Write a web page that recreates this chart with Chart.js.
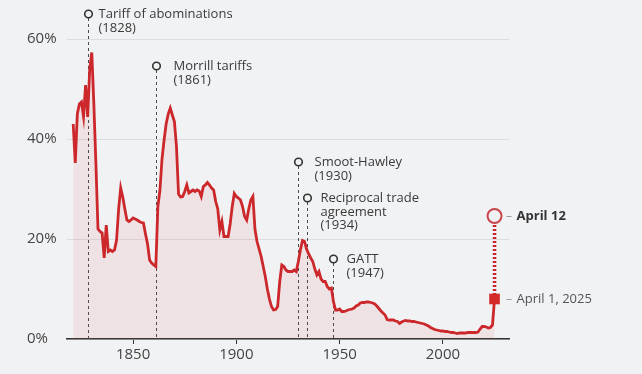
<!DOCTYPE html>
<html>
<head>
<meta charset="utf-8">
<script src="https://cdn.jsdelivr.net/npm/chart.js@4"></script>
<style>
  html, body { margin: 0; padding: 0; background: #f1f2f4; }
</style>
</head>
<body>
<canvas id="myChart" width="642" height="374"></canvas>
<script>
// years 1821-2025
const years = [
  1821,1822,1823,1824,1825,1826,1827,1828,1829,1830,
  1831,1832,1833,1834,1835,1836,1837,1838,1839,1840,
  1841,1842,1843,1844,1845,1846,1847,1848,1849,1850,
  1851,1852,1853,1854,1855,1856,1857,1858,1859,1860,
  1861,1862,1863,1864,1865,1866,1867,1868,1869,1870,
  1871,1872,1873,1874,1875,1876,1877,1878,1879,1880,
  1881,1882,1883,1884,1885,1886,1887,1888,1889,1890,
  1891,1892,1893,1894,1895,1896,1897,1898,1899,1900,
  1901,1902,1903,1904,1905,1906,1907,1908,1909,1910,
  1911,1912,1913,1914,1915,1916,1917,1918,1919,1920,
  1921,1922,1923,1924,1925,1926,1927,1928,1929,1930,
  1931,1932,1933,1934,1935,1936,1937,1938,1939,1940,
  1941,1942,1943,1944,1945,1946,1947,1948,1949,1950,
  1951,1952,1953,1954,1955,1956,1957,1958,1959,1960,
  1961,1962,1963,1964,1965,1966,1967,1968,1969,1970,
  1971,1972,1973,1974,1975,1976,1977,1978,1979,1980,
  1981,1982,1983,1984,1985,1986,1987,1988,1989,1990,
  1991,1992,1993,1994,1995,1996,1997,1998,1999,2000,
  2001,2002,2003,2004,2005,2006,2007,2008,2009,2010,
  2011,2012,2013,2014,2015,2016,2017,2018,2019,2020,
  2021,2022,2023,2024,2025
];

// average tariff rate, %
const tariffRate = [
  43, 35.2, 45, 47, 47.4, 44.5, 50.8, 44.4, 54, 57.3,
  47, 35, 22, 21.5, 21.2, 16.2, 22.8, 17.5, 17.8, 17.5,
  17.8, 19.8, 26, 30.2, 28.4, 26, 23.8, 23.5, 23.8, 24.2,
  24, 23.8, 23.5, 23.3, 23.2, 21, 19, 15.8, 15.2, 14.8,
  14.5, 26.5, 29.8, 36, 39.8, 43, 45, 46.2, 44.8, 43.5,
  38.5, 29, 28.4, 28.5, 29.5, 30.8, 29.2, 29.5, 29.8, 29.5,
  29.8, 29.6, 28.5, 30.5, 30.8, 31.3, 30.8, 30.2, 29.8, 27.5,
  26, 21.8, 23.5, 20.5, 20.5, 20.5, 23, 26.5, 29.1, 28.5,
  28.2, 27.8, 26.5, 24.5, 23.8, 26, 27.8, 28.5, 22, 19.5,
  18, 16.5, 14.5, 12.5, 10, 8, 6.5, 5.8, 5.9, 6.5,
  11.5, 14.8, 14.5, 13.8, 13.5, 13.5, 13.5, 13.8, 13.5, 15.5,
  17.8, 19.7, 19.5, 18, 17, 16.2, 15.5, 14, 12.8, 13.5,
  12, 11.5, 11.5, 10.5, 10, 10.2, 7.5, 5.8, 5.8, 6,
  5.5, 5.5, 5.6, 5.8, 5.9, 6, 6.2, 6.6, 6.8, 7.2,
  7.3, 7.3, 7.4, 7.4, 7.3, 7.2, 7, 6.6, 6.1, 5.6,
  5.2, 4.8, 3.9, 3.8, 3.8, 3.8, 3.6, 3.5, 3.1, 3.4,
  3.6, 3.7, 3.6, 3.6, 3.5, 3.5, 3.4, 3.3, 3.2, 3.1,
  3, 2.8, 2.6, 2.3, 2.1, 1.9, 1.8, 1.7, 1.6, 1.6,
  1.5, 1.5, 1.4, 1.3, 1.3, 1.2, 1.1, 1.2, 1.2, 1.2,
  1.2, 1.3, 1.3, 1.3, 1.3, 1.3, 1.4, 2, 2.5, 2.5,
  2.4, 2.2, 2.3, 2.8, 8
];

// 2025 announcements
const aprilYear = 2025;
const aprilRates = [8, 24.6];
const aprilLabels = ['April 1, 2025', 'April 12'];

// historical events
const eventYears = [1828, 1861, 1930, 1934, 1947];
const eventLevels = [65, 54.6, 35.4, 28.2, 16];
const eventLabels = [
  ['Tariff of abominations', '(1828)'],
  ['Morrill tariffs', '(1861)'],
  ['Smoot-Hawley', '(1930)'],
  ['Reciprocal trade', 'agreement', '(1934)'],
  ['GATT', '(1947)']
];

const xTicks = [1850, 1900, 1950, 2000];
const yTicks = [0, 20, 40, 60];

const FONT = '"Open Sans", "Noto Sans", sans-serif';
const labelGap = [10, 17, 16, 13, 13];

const eventPlugin = {
  id: 'events',
  beforeDatasetsDraw(chart) {
    const c = chart.ctx, xs = chart.scales.x, ys = chart.scales.y;
    c.save();
    c.strokeStyle = '#4a4a4a';
    c.lineWidth = 1;
    c.setLineDash([3, 3]);
    for (let i = 0; i < eventYears.length; i++) {
      const px = Math.round(xs.getPixelForValue(eventYears[i])) + 0.5;
      const py = ys.getPixelForValue(eventLevels[i]);
      c.beginPath();
      c.moveTo(px, py + 4);
      c.lineTo(px, ys.getPixelForValue(0));
      c.stroke();
    }
    c.restore();
  },
  afterDatasetsDraw(chart) {
    const c = chart.ctx, xs = chart.scales.x, ys = chart.scales.y;
    c.save();
    c.font = '13px ' + FONT;
    c.textBaseline = 'middle';
    for (let i = 0; i < eventYears.length; i++) {
      const px = Math.round(xs.getPixelForValue(eventYears[i])) + 0.5;
      const py = ys.getPixelForValue(eventLevels[i]);
      c.beginPath();
      c.arc(px, py, 3.8, 0, Math.PI * 2);
      c.fillStyle = '#f1f2f4';
      c.fill();
      c.lineWidth = 1.6;
      c.strokeStyle = '#333';
      c.stroke();
      c.fillStyle = '#3a3a3a';
      eventLabels[i].forEach((t, j) => {
        c.fillText(t, px + labelGap[i], py + j * 13.8);
      });
    }
    // April labels
    for (let i = 0; i < aprilRates.length; i++) {
      const px = xs.getPixelForValue(aprilYear);
      const py = ys.getPixelForValue(aprilRates[i]);
      c.beginPath();
      c.moveTo(px + 12, py + 0.5);
      c.lineTo(px + 17, py + 0.5);
      c.strokeStyle = '#999';
      c.lineWidth = 1;
      c.stroke();
      if (i === 1) {
        c.font = 'bold 13px ' + FONT;
        c.fillStyle = '#333';
      } else {
        c.font = '13px ' + FONT;
        c.fillStyle = '#555';
      }
      c.fillText(aprilLabels[i], px + 22, py);
    }
    c.restore();
  }
};

const ctx = document.getElementById('myChart').getContext('2d');

const myChart = new Chart(ctx, {
  type: 'line',
  data: {
    datasets: [{
      data: years.map((yr, i) => ({ x: yr, y: tariffRate[i] })),
      borderColor: '#cc272a',
      backgroundColor: 'rgba(210, 70, 70, 0.09)',
      borderWidth: 2.8,
      pointRadius: 0,
      fill: 'origin',
      tension: 0,
      order: 1
    }, {
      data: aprilRates.map(v => ({ x: aprilYear, y: v })),
      borderColor: '#c9252b',
      borderWidth: 3.5,
      borderDash: [2, 2],
      pointStyle: ['rect', 'circle'],
      pointRadius: [7.5, 7],
      pointBackgroundColor: ['#d42a2a', '#f1f2f4'],
      pointBorderColor: ['#d42a2a', '#c8464b'],
      pointBorderWidth: [0, 2],
      fill: false,
      order: 0
    }]
  },
  options: {
    responsive: false,
    animation: false,
    layout: { padding: { left: 27, right: 133, top: 9, bottom: 0 } },
    plugins: { legend: { display: false }, tooltip: { enabled: false } },
    scales: {
      x: {
        type: 'linear',
        min: 1818,
        max: 2032,
        afterBuildTicks: s => { s.ticks = xTicks.map(v => ({ value: v })); },
        afterFit: s => { s.height = 35; },
        grid: { drawOnChartArea: false, tickLength: 5, tickColor: '#333', tickWidth: 1 },
        border: { display: true, color: '#333', width: 1.6 },
        ticks: {
          padding: 2,
          color: '#444',
          font: { family: FONT, size: 15 },
          callback: v => String(v)
        }
      },
      y: {
        min: 0,
        max: 66,
        afterBuildTicks: s => { s.ticks = yTicks.map(v => ({ value: v })); },
        afterFit: s => { s.width = 40; },
        grid: { color: '#dcdde0', lineWidth: 1, drawTicks: false },
        border: { display: false },
        ticks: {
          crossAlign: 'far',
          padding: 0,
          color: '#444',
          font: { family: FONT, size: 15 },
          callback: v => v + '%'
        }
      }
    }
  },
  plugins: [eventPlugin]
});
</script>
</body>
</html>
